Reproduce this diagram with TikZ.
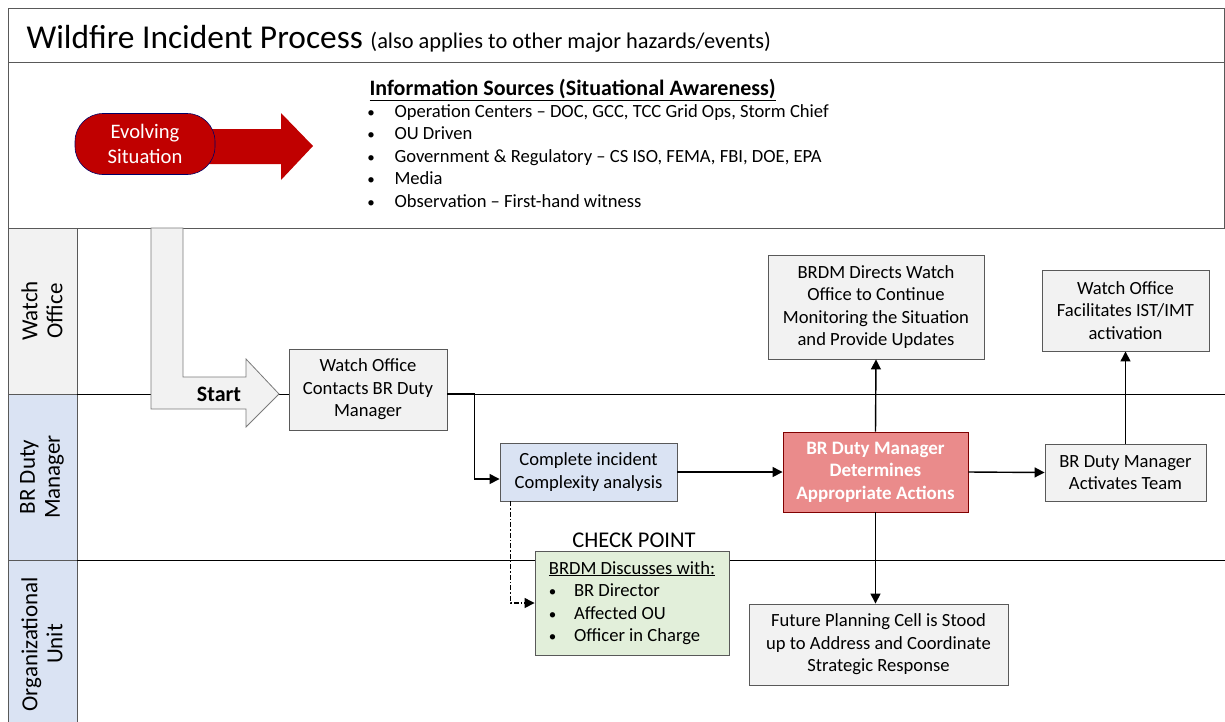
\documentclass[tikz,border=0pt]{standalone}
\usepackage{fontspec}
\setmainfont{Carlito}
\usetikzlibrary{arrows.meta,positioning}
\definecolor{boxgray}{HTML}{F2F2F2}
\definecolor{boxblue}{HTML}{DAE3F3}
\definecolor{boxred}{HTML}{EA8B8B}
\definecolor{boxgreen}{HTML}{E2EFDA}
\definecolor{evored}{HTML}{C00000}
\definecolor{edgegray}{HTML}{595959}

\begin{document}
\begin{tikzpicture}[x=1pt,y=-1pt,font=\fontsize{18.6}{22.5}\selectfont,
  box/.style={draw=edgegray,fill=boxgray,align=center,inner sep=0pt,line width=0.9pt},
  flow/.style={-{Triangle[length=10pt,width=10pt]},line width=1.4pt},
  dflow/.style={flow,line width=1.3pt,dash pattern=on 5pt off 2pt on 1.5pt off 2pt},
  lanehd/.style={draw=edgegray,line width=1pt},
  lanelbl/.style={rotate=90,align=center,font=\fontsize{23}{25}\selectfont}]
\useasboundingbox (0,0) rectangle (1225,721);
\clip (0,0) rectangle (1225,721);
% frame and swim lanes
\draw[lanehd,fill=white] (8,8) rectangle (1224,62);
\draw[lanehd] (8,62) rectangle (1224,228);
\draw[lanehd,fill=boxgray] (8,228) rectangle (77,394);
\draw[lanehd,fill=boxblue] (8,394) rectangle (77,560);
\draw[lanehd,fill=boxblue] (8,560) rectangle (77,740);
\draw[line width=0.9pt] (77,394) -- (1225,394);
\draw[line width=0.9pt] (77,560) -- (1225,560);
\node[lanelbl] (lwatch) at (42,311) {Watch\\Office};
\node[lanelbl] (lbrdm) at (42,477) {BR Duty\\Manager};
\node[lanelbl] (lorg) at (42,644) {Organizational\\Unit};
% title
\node[anchor=base west] (title) at (23,48) {\fontsize{33.4}{34}\selectfont Wildfire Incident Process
  \fontsize{22.4}{24}\selectfont(also applies to other major hazards/events)};
% evolving situation
\fill[evored] (200,129) -- (281,129) -- (281,113) -- (313,146) -- (281,180) -- (281,164) -- (200,164) -- cycle;
\node[draw=blue!40!black,fill=evored,text=white,rounded corners=28pt,align=center,font=\fontsize{20.6}{24.5}\selectfont,
  minimum width=140pt,minimum height=61pt,line width=0.6pt] (evo) at (145,144) {Evolving\\Situation};
\node[anchor=base west,font=\fontsize{22}{24}\selectfont\bfseries] (infohd) at (366,95) {\underline{Information Sources (Situational Awareness)}};
\foreach \txt [count=\i] in {{Operation Centers -- DOC, GCC, TCC Grid Ops, Storm Chief},{OU Driven},
    {Government \& Regulatory -- CS ISO, FEMA, FBI, DOE, EPA},{Media},{Observation -- First-hand witness}}{
  \node[anchor=base,font=\fontsize{15}{16}\selectfont] (bul\i) at (371,94.5+22.5*\i) {\textbullet};
  \node[anchor=base west] (info\i) at (391,94.5+22.5*\i) {\txt};
}
% start arrow
\draw[draw=edgegray!80,fill=boxgray,line width=0.8pt] (151,228) -- (183,228) -- (183,377) -- (246,377) -- (246,359)
  -- (279,394) -- (246,427) -- (246,409) -- (151,409) -- cycle;
\node[font=\fontsize{22}{24}\selectfont\bfseries] (start) at (219,394) {Start};
% process boxes
\node[box,minimum width=158pt,minimum height=81pt] (woc) at (368,389.5) {Watch Office\\Contacts BR Duty\\Manager};
\node[box,fill=boxblue,minimum width=177pt,minimum height=58pt] (cplx) at (588.5,472) {Complete incident\\Complexity analysis};
\node[box,fill=boxred,draw=red!50!black,text=white,font=\fontsize{19}{22.5}\selectfont\bfseries,
  minimum width=185pt,minimum height=80pt] (detm) at (875.5,472) {BR Duty Manager\\Determines\\Appropriate Actions};
\node[box,minimum width=216pt,minimum height=104pt] (dirs) at (876,307) {BRDM Directs Watch\\Office to Continue\\Monitoring the Situation\\and Provide Updates};
\node[box,minimum width=167pt,minimum height=81pt] (facil) at (1125.5,310.5) {Watch Office\\Facilitates IST/IMT\\activation};
\node[box,minimum width=161pt,minimum height=57pt] (activ) at (1125.5,472.5) {BR Duty Manager\\Activates Team};
\node[box,minimum width=259pt,minimum height=81pt] (futr) at (878.5,644.5) {Future Planning Cell is Stood\\up to Address and Coordinate\\Strategic Response};
\node[font=\fontsize{22.5}{24}\selectfont] (chk) at (634,540) {CHECK POINT};
\node[box,fill=boxgreen,align=left,minimum width=194pt,minimum height=104pt] (disc) at (632,603)
  {\underline{BRDM Discusses with:}\\{\fontsize{15}{16}\selectfont\textbullet}\hspace{0.95em}BR Director\\
   {\fontsize{15}{16}\selectfont\textbullet}\hspace{0.95em}Affected OU\\{\fontsize{15}{16}\selectfont\textbullet}\hspace{0.95em}Officer in Charge};
% connectors
\draw[flow] ([yshift=-4.5pt]woc.east) -- ++(27,0) |- ([yshift=-7pt]cplx.west);
\draw[flow] (cplx.east) -- (detm.west);
\draw[flow] (detm.north) -- (dirs.south);
\draw[flow] (detm.south) -- (futr.north -| detm.south);
\draw[flow] (detm.east) -- (activ.west);
\draw[flow] (activ.north) -- (facil.south);
\draw[dflow] ([xshift=-78pt]cplx.south) |- (disc.west);
\end{tikzpicture}
\end{document}
